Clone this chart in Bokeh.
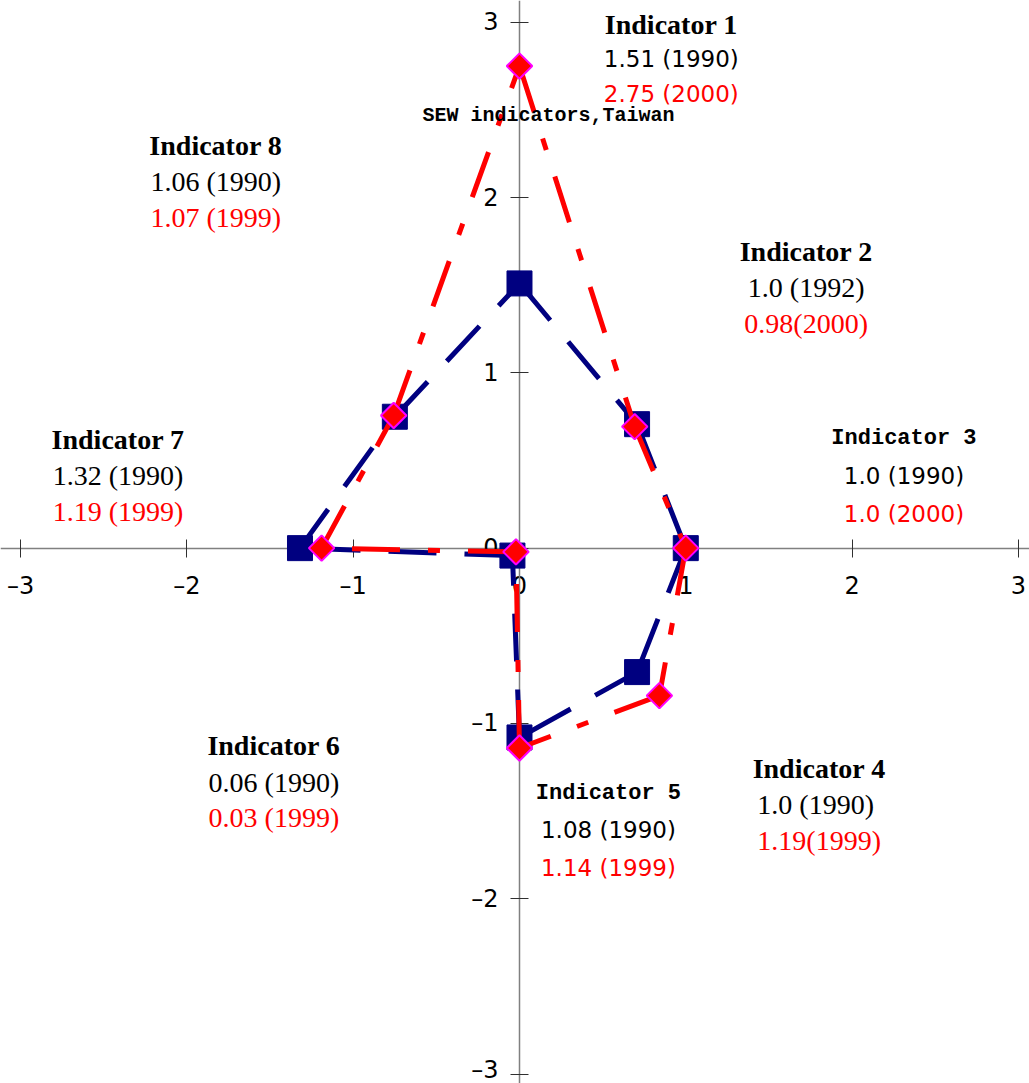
import numpy as np
from bokeh.plotting import figure
from bokeh.models import FixedTicker, Label
from bokeh.embed import file_html
from bokeh.resources import INLINE

# ---------------- data ----------------
indicators = ["Indicator 1", "Indicator 2", "Indicator 3", "Indicator 4",
              "Indicator 5", "Indicator 6", "Indicator 7", "Indicator 8"]
angles_deg = [90, 45, 0, -45, -90, -135, 180, 135]
values_1990 = [1.51, 1.0, 1.0, 1.0, 1.08, 0.06, 1.32, 1.06]
values_2000 = [2.75, 0.98, 1.0, 1.19, 1.14, 0.03, 1.19, 1.07]
text_1990 = ["1.51 (1990)", "1.0 (1992)", "1.0 (1990)", "1.0  (1990)",
             "1.08 (1990)", "0.06 (1990)", "1.32 (1990)", "1.06 (1990)"]
text_2000 = ["2.75 (2000)", "0.98(2000)", "1.0 (2000)", "1.19(1999)",
             "1.14 (1999)", "0.03 (1999)", "1.19 (1999)", "1.07 (1999)"]
tick_values = [-3, -2, -1, 0, 1, 2, 3]
tick_labels = ["\u20133", "\u20132", "\u20131", "0", "1", "2", "3"]
title_text = "SEW indicators,Taiwan"

# ---------------- layout (label anchors, data units) ----------------
label_x = [0.913, 1.724, 2.312, 1.802, 0.535, -1.477, -2.414, -1.826]
label_y_head = [2.931, 1.636, 0.570, -1.313, -1.455, -1.183, 0.564, 2.240]
label_y_v1 = [2.735, 1.430, 0.354, -1.522, -1.665, -1.393, 0.358, 2.036]
label_y_v2 = [2.531, 1.227, 0.135, -1.727, -1.884, -1.594, 0.154, 1.830]
head_style = ["serif", "serif", "mono", "serif", "mono", "serif", "serif", "serif"]
val_style = ["sans", "serif", "sans", "serif", "sans", "serif", "serif", "serif"]
title_pos = (0.174, 2.421)
Y_SHIFT = 10 / 175.0  # renderer baseline correction

FONTS = {
    "serif": ("Liberation Serif", "28px"),
    "mono": ("Liberation Mono", "22px"),
    "sans": ("DejaVu Sans", "23px"),
}

BLUE = "#000080"
RED = "#FF0000"
MAGENTA = "#FF00FF"

ang = np.radians(angles_deg)
x90 = np.array(values_1990) * np.cos(ang)
y90 = np.array(values_1990) * np.sin(ang)
x00 = np.array(values_2000) * np.cos(ang)
y00 = np.array(values_2000) * np.sin(ang)


def segments(x, y):
    n = len(x)
    xs = [[x[i], x[(i + 1) % n]] for i in range(n)]
    ys = [[y[i], y[(i + 1) % n]] for i in range(n)]
    return xs, ys


p = figure(width=1029, height=1083, x_range=(-3.121, 3.067), y_range=(-3.054, 3.124),
           output_backend="svg", toolbar_location=None, min_border=0,
           outline_line_color=None, background_fill_color="white")
p.xgrid.visible = False
p.ygrid.visible = False

for ax in (p.xaxis[0], p.yaxis[0]):
    ax.fixed_location = 0
    ax.ticker = FixedTicker(ticks=tick_values)
    ax.major_label_overrides = {v: l for v, l in zip(tick_values, tick_labels)}
    ax.minor_tick_line_color = None
    ax.major_tick_in = 9
    ax.major_tick_out = 9
    ax.axis_line_color = "#808080"
    ax.axis_line_width = 1.5
    ax.major_tick_line_color = "#303030"
    ax.major_label_text_font = "DejaVu Sans"
    ax.major_label_text_font_size = "24px"
    ax.major_label_text_color = "black"
    ax.level = "underlay"
p.xaxis.major_label_standoff = 15
p.yaxis.major_label_standoff = 12

# 1990 series
bxs, bys = segments(x90, y90)
p.multi_line(bxs, bys, line_color=BLUE, line_width=5, line_dash="48 28", line_cap="butt")
p.scatter(x90, y90, marker="square", size=25, fill_color=BLUE, line_color=BLUE)

# 2000 series
rxs, rys = segments(x00, y00)
p.multi_line(rxs, rys, line_color=RED, line_width=5, line_dash="48 28 12 28", line_cap="butt")
p.scatter(x00, y00, marker="square", angle=np.pi / 4, size=18,
          fill_color=RED, line_color=MAGENTA, line_width=2)

# labels
for i in range(len(indicators)):
    hf, hs = FONTS[head_style[i]]
    p.add_layout(Label(x=label_x[i], y=label_y_head[i] + Y_SHIFT, text=indicators[i],
                       text_font=hf, text_font_size=hs, text_font_style="bold",
                       text_align="center", text_baseline="alphabetic", text_color="black"))
    vf, vs = FONTS[val_style[i]]
    p.add_layout(Label(x=label_x[i], y=label_y_v1[i] + Y_SHIFT, text=text_1990[i],
                       text_font=vf, text_font_size=vs,
                       text_align="center", text_baseline="alphabetic", text_color="black"))
    p.add_layout(Label(x=label_x[i], y=label_y_v2[i] + Y_SHIFT, text=text_2000[i],
                       text_font=vf, text_font_size=vs,
                       text_align="center", text_baseline="alphabetic", text_color=RED))

p.add_layout(Label(x=title_pos[0], y=title_pos[1] + Y_SHIFT * 0.8, text=title_text,
                   text_font="Liberation Mono", text_font_size="20px", text_font_style="bold",
                   text_align="center", text_baseline="alphabetic", text_color="black"))

open("out.html", "w").write(file_html(p, INLINE))
